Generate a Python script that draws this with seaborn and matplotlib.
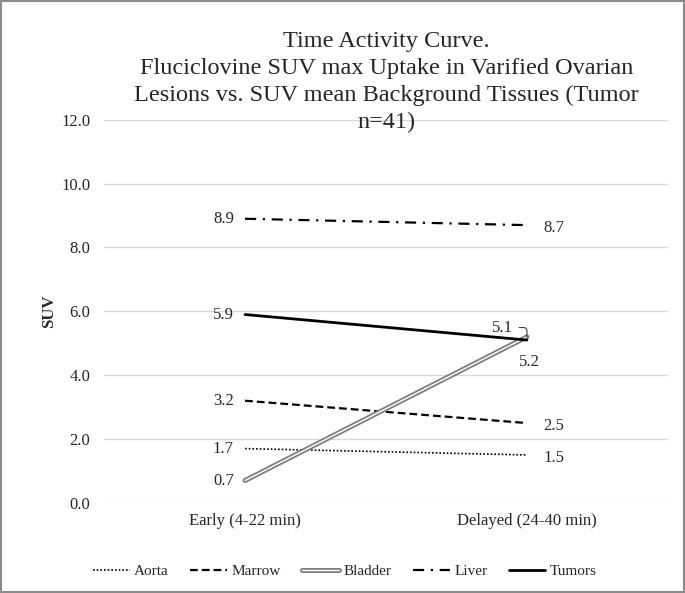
import numpy as np
import pandas as pd
import matplotlib
matplotlib.use("Agg")
import matplotlib.pyplot as plt
import matplotlib.patheffects as pe
from matplotlib.patches import Rectangle
import seaborn as sns

sns.set_theme(style="white")
plt.rcParams["font.family"] = ["Liberation Serif", "DejaVu Serif"]

# 데이터
time_points = ["Early (4-22 min)", "Delayed (24-40 min)"]
aorta = [1.7, 1.5]
marrow = [3.2, 2.5]
bladder = [0.7, 5.2]
liver = [8.9, 8.7]
tumors = [5.9, 5.1]
y_ticks = [0.0, 2.0, 4.0, 6.0, 8.0, 10.0, 12.0]

series = {"Aorta": aorta, "Marrow": marrow, "Bladder": bladder,
          "Liver": liver, "Tumors": tumors}
rows = []
for name, vals in series.items():
    for t, v in zip(time_points, vals):
        rows.append((name, t, v))
df = pd.DataFrame(rows, columns=["Tissue", "Time", "SUV"])

fig = plt.figure(figsize=(6.85, 5.93), dpi=100)
ax = fig.add_axes([0.152, 0.152, 0.823, 0.646])

styles = {
    "Aorta": dict(color="black", linestyle=(0, (1, 1.2)), linewidth=1.2),
    "Marrow": dict(color="black", linestyle=(0, (3.5, 1.8)), linewidth=1.6),
    "Bladder": dict(color="white", linestyle="-", linewidth=1.0,
                    path_effects=[pe.Stroke(linewidth=3.6, foreground="#7f7f7f"), pe.Normal()]),
    "Liver": dict(color="black", linestyle=(0, (5, 3, 1, 3)), linewidth=1.6),
    "Tumors": dict(color="black", linestyle="-", linewidth=2.0),
}

for name in series:
    sub = df[df["Tissue"] == name]
    sns.lineplot(data=sub, x="Time", y="SUV", ax=ax, label=name, **styles[name])

ax.set_xlim(-0.5, 1.5)
ax.set_ylim(0, 12)
ax.set_yticks(y_ticks)
ax.set_yticklabels([f"{v:.1f}" for v in y_ticks])
ax.yaxis.grid(True, color="#d9d9d9", linewidth=1)
ax.xaxis.grid(False)
for s in ax.spines.values():
    s.set_visible(False)
ax.tick_params(axis="y", length=0, labelsize=12, colors="#262626", pad=10)
ax.tick_params(axis="x", length=0, labelsize=12, colors="#262626", pad=7)
ax.set_xlabel("")
ax.set_ylabel("SUV", fontsize=12, fontweight="bold", labelpad=3, color="#262626")

# 데이터 라벨
fs = 12
for name, vals in series.items():
    ax.annotate(f"{vals[0]:.1f}", (0, vals[0]), xytext=(-8, 0), textcoords="offset points",
                ha="right", va="center", fontsize=fs, color="#262626")
for name in ["Aorta", "Marrow", "Liver"]:
    v = series[name][1]
    ax.annotate(f"{v:.1f}", (1, v), xytext=(12, -2), textcoords="offset points",
                ha="left", va="center", fontsize=fs, color="#262626")
ax.annotate(f"{tumors[1]:.1f}", (1, tumors[1]), xytext=(-10, 9), textcoords="offset points",
            ha="right", va="center", fontsize=fs, color="#262626",
            arrowprops=dict(arrowstyle="-", color="#404040", lw=0.8,
                            connectionstyle="angle,angleA=0,angleB=90,rad=3"))
ax.annotate(f"{bladder[1]:.1f}", (1, bladder[1]), xytext=(2, -18), textcoords="offset points",
            ha="center", va="center", fontsize=fs, color="#262626")

fig.text(0.564, 0.947, "Time Activity Curve.\nFluciclovine SUV max Uptake in Varified Ovarian\n"
         "Lesions vs. SUV mean Background Tissues (Tumor\nn=41)",
         ha="center", va="top", fontsize=17.5, color="#262626", linespacing=1.36)

ax.legend(loc="center", bbox_to_anchor=(0.427, -0.178), ncol=5, frameon=False,
          fontsize=11, handlelength=2.4, handletextpad=0.3, columnspacing=1.4)

fig.add_artist(Rectangle((0.002, 0.002), 0.996, 0.996, transform=fig.transFigure,
                         fill=False, edgecolor="#8c8c8c", linewidth=1.5))

fig.savefig("out.png", dpi=100)
